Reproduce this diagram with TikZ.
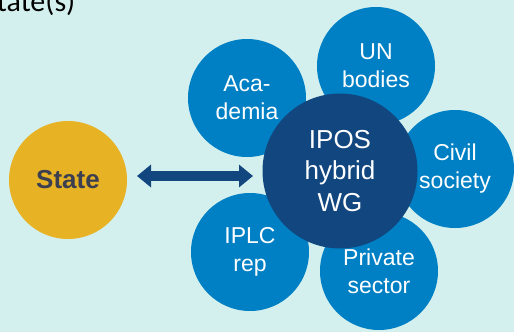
\documentclass[tikz,border=0pt]{standalone}
\usepackage{fontspec}
\setmainfont{Liberation Sans}
\newfontfamily\titlefont{Carlito}
\usetikzlibrary{arrows.meta}
\definecolor{bgcyan}{HTML}{D3F0EF}
\definecolor{groupblue}{HTML}{0080C4}
\definecolor{wgnavy}{HTML}{12467F}
\definecolor{stategold}{HTML}{E7B223}
\definecolor{stategrey}{HTML}{3C3F50}
\begin{document}
\begin{tikzpicture}[x=1pt, y=-1pt,
  group/.style={circle, fill=groupblue, minimum size=118pt, inner sep=0pt, align=center,
    text=white, font=\fontsize{23}{28}\selectfont},
  hub/.style={circle, fill=wgnavy, minimum size=155pt, inner sep=0pt, align=center,
    text=white, font=\fontsize{26}{31.5}\selectfont},
  statebox/.style={circle, fill=stategold, minimum size=118pt, inner sep=0pt,
    text=stategrey, font=\fontsize{26}{31}\selectfont\bfseries},
  twoway/.style={{Triangle[width=22pt, length=14pt]}-{Triangle[width=22pt, length=14pt]},
    line width=10pt, draw=wgnavy}]
\useasboundingbox[fill=bgcyan] (0,0) rectangle (514,332);
\node[anchor=base west, inner sep=0pt, font=\titlefont\fontsize{30}{36}\selectfont] (title) at (-17,12) {State(s)};
% stakeholder groups round the working group
\node[group] (academia) at (247,98) {Aca-\\demia};
\node[group] (unbodies) at (376,66) {UN\\bodies};
\node[group] (civil) at (455,169) {Civil\\society};
\node[group] (private) at (379,271) {Private\\sector};
\node[group] (iplc) at (250,252) {IPLC\\rep};
\node[hub] (ipos) at (340,171) {IPOS\\hybrid\\WG};
\node[statebox] (state) at (68,180) {State};
\coordinate (arrowL) at (137,176);
\coordinate (arrowR) at (253,176);
\draw[twoway] (arrowL) -- (arrowR);
\end{tikzpicture}
\end{document}
